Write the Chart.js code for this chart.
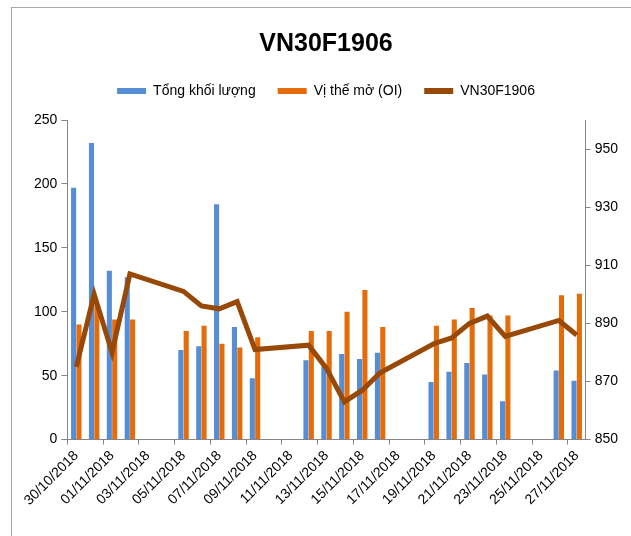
<!DOCTYPE html>
<html>
<head>
<meta charset="utf-8">
<script src="https://cdn.jsdelivr.net/npm/chart.js@4"></script>
<style>
    html, body { margin: 0; padding: 0; background: #fff; }
    #wrap { position: relative; width: 631px; height: 536px; overflow: hidden; }
    #frame { position: absolute; left: 11px; top: 7px; width: 640px; height: 560px; border: 1px solid #a6a6a6; box-sizing: border-box; }
    canvas { position: absolute; left: 0; top: 0; }
</style>
</head>
<body>
<div id="wrap">
    <div id="frame"></div>
    <canvas id="chart" width="631" height="536"></canvas>
</div>
<script>
// trading days only carry values, weekends stay null
const dates = [
    '30/10/2018', '31/10/2018', '01/11/2018', '02/11/2018', '03/11/2018', '04/11/2018',
    '05/11/2018', '06/11/2018', '07/11/2018', '08/11/2018', '09/11/2018', '10/11/2018',
    '11/11/2018', '12/11/2018', '13/11/2018', '14/11/2018', '15/11/2018', '16/11/2018',
    '17/11/2018', '18/11/2018', '19/11/2018', '20/11/2018', '21/11/2018', '22/11/2018',
    '23/11/2018', '24/11/2018', '25/11/2018', '26/11/2018', '27/11/2018'
];
const volume = [197, 232, 132, 127, null, null, 70, 73, 184, 88, 48, null, null, 62, 57, 67, 63, 68, null, null, 45, 53, 60, 51, 30, null, null, 54, 46];
const openInterest = [90, 106, 94, 94, null, null, 85, 89, 75, 72, 80, null, null, 85, 85, 100, 117, 88, null, null, 89, 94, 103, 97, 97, null, null, 113, 114];
const price = [875, 900, 880, 907, null, null, 901, 896, 895, 897.5, 881, null, null, 882.5, 874.5, 863, 867, 873, null, null, 883, 885, 890, 892.5, 885.5, null, null, 891, 886];
const leftTicks = [0, 50, 100, 150, 200, 250];
const rightTicks = [850, 870, 890, 910, 930, 950];

const FONT = 'Liberation Sans, Arial, sans-serif';
const axisGray = '#868686';

// extra room under the legend, like the Excel layout
const legendGap = {
    id: 'legendGap',
    beforeInit(chart) {
        const fit = chart.legend.fit;
        chart.legend.fit = function () {
            fit.call(this);
            this.height += 12;
        };
    }
};

const ctx = document.getElementById('chart').getContext('2d');
new Chart(ctx, {
    type: 'bar',
    data: {
        labels: dates,
        datasets: [
            {
                label: 'Tổng khối lượng',
                data: volume,
                backgroundColor: '#558ED5',
                yAxisID: 'y',
                order: 2,
                categoryPercentage: 0.6,
                barPercentage: 0.95
            },
            {
                label: 'Vị thế mở (OI)',
                data: openInterest,
                backgroundColor: '#E46C0A',
                yAxisID: 'y',
                order: 2,
                categoryPercentage: 0.6,
                barPercentage: 0.95
            },
            {
                type: 'line',
                label: 'VN30F1906',
                data: price,
                borderColor: '#984807',
                backgroundColor: '#984807',
                borderWidth: 5,
                pointRadius: 0,
                spanGaps: true,
                tension: 0,
                yAxisID: 'y1',
                order: 0
            }
        ]
    },
    plugins: [legendGap],
    options: {
        responsive: false,
        animation: false,
        layout: { padding: { left: 30, right: 9, top: 29, bottom: 24 } },
        scales: {
            x: {
                type: 'category',
                offset: true,
                grid: {
                    offset: true,
                    drawOnChartArea: false,
                    tickLength: 5,
                    color: c => (c.index !== undefined && c.index % 2 === 0) ? axisGray : 'rgba(0,0,0,0)'
                },
                border: { color: axisGray },
                ticks: {
                    autoSkip: false,
                    maxRotation: 45,
                    minRotation: 45,
                    color: '#000',
                    font: { family: FONT, size: 14 },
                    callback: (v, i) => i % 2 === 0 ? dates[i] : ''
                }
            },
            y: {
                position: 'left',
                min: 0,
                max: 250,
                grid: { drawOnChartArea: false, tickLength: 6, color: axisGray },
                border: { color: axisGray },
                ticks: { color: '#000', font: { family: FONT, size: 14 }, padding: 4 },
                afterBuildTicks: s => { s.ticks = leftTicks.map(v => ({ value: v })); }
            },
            y1: {
                position: 'right',
                min: 850,
                max: 960,
                grid: { drawOnChartArea: false, tickLength: 5, color: axisGray },
                border: { color: axisGray },
                ticks: { color: '#000', font: { family: FONT, size: 14 }, padding: 4 },
                afterBuildTicks: s => { s.ticks = rightTicks.map(v => ({ value: v })); }
            }
        },
        plugins: {
            title: {
                display: true,
                text: 'VN30F1906',
                color: '#000',
                font: { family: FONT, size: 25, weight: 'bold' },
                padding: { top: 0, bottom: 3 }
            },
            legend: {
                position: 'top',
                labels: {
                    color: '#000',
                    font: { family: FONT, size: 14 },
                    boxWidth: 29,
                    boxHeight: 6,
                    padding: 22,
                    sort: (a, b) => a.datasetIndex - b.datasetIndex,
                    generateLabels: chart => Chart.defaults.plugins.legend.labels.generateLabels(chart).map(l => {
                        l.lineWidth = 0;
                        return l;
                    })
                }
            },
            tooltip: { enabled: false }
        }
    }
});
</script>
</body>
</html>
